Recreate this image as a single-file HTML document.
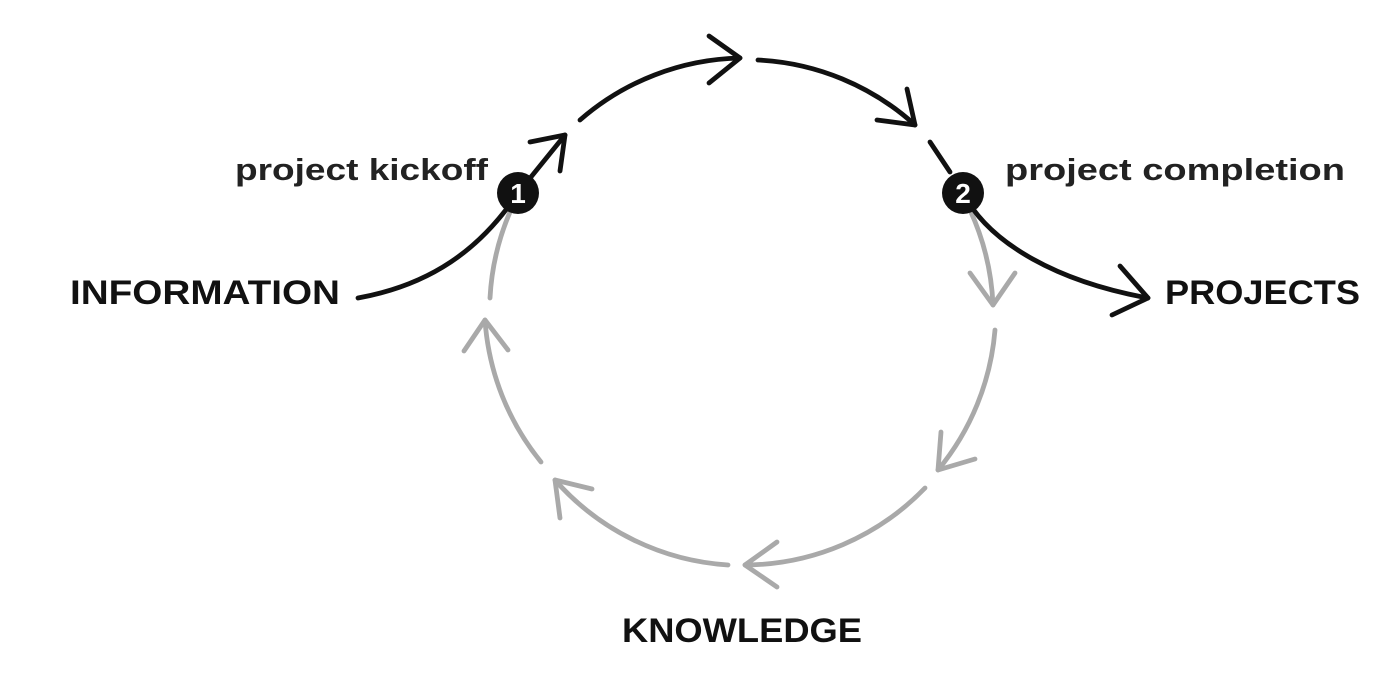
<!DOCTYPE html>
<html><head><meta charset="utf-8"><style>html,body{margin:0;padding:0;background:#fff;}svg{display:block}</style></head>
<body>
<svg width="1396" height="682" viewBox="0 0 1396 682" xmlns="http://www.w3.org/2000/svg">
<g fill="none" stroke-linecap="round" stroke-linejoin="round" stroke-width="4.8">
<g stroke="#a9a9a9">
<path d="M970,210 A252,252 0 0 1 993,305"/>
<path d="M970,273 L993,305 L1015,273"/>
<path d="M995,330 A252,252 0 0 1 938,470"/>
<path d="M941,432 L938,470 L975,459"/>
<path d="M925,488 A252,252 0 0 1 745,565"/>
<path d="M777,587 L745,565 L777,542"/>
<path d="M728,565 A252,252 0 0 1 555,480"/>
<path d="M592,489 L555,480 L560,518"/>
<path d="M541,462 A252,252 0 0 1 485,320"/>
<path d="M508,350 L485,320 L464,351"/>
<path d="M490,298 A252,252 0 0 1 510,212"/>
</g>
<g stroke="#111">
<path d="M358,298 C430,285 480,250 518,193 L565,135"/>
<path d="M560,171 L565,135 L530,142"/>
<path d="M580,120 A252,252 0 0 1 740,58"/>
<path d="M709,83 L740,58 L709,36"/>
<path d="M758,60 A252,252 0 0 1 915,125"/>
<path d="M877,120 L915,125 L907,89"/>
<path d="M930,142 L950,172"/>
<path d="M963,193 C990,245 1060,282 1148,298"/>
<path d="M1112,315 L1148,298 L1120,266"/>
</g>
</g>
<circle cx="518" cy="193" r="21" fill="#111"/>
<circle cx="963" cy="193" r="21" fill="#111"/>
<g font-family="Liberation Sans, sans-serif" font-weight="bold">
<text x="518" y="203" font-size="28" fill="#fff" text-anchor="middle">1</text>
<text x="963" y="203" font-size="28" fill="#fff" text-anchor="middle">2</text>
<text x="70" y="304" font-size="34" fill="#111" textLength="270" lengthAdjust="spacingAndGlyphs">INFORMATION</text>
<text x="1165" y="304" font-size="34" fill="#111" textLength="195" lengthAdjust="spacingAndGlyphs">PROJECTS</text>
<text x="622" y="642" font-size="34" fill="#111" textLength="240" lengthAdjust="spacingAndGlyphs">KNOWLEDGE</text>
<text x="235" y="180" font-size="31" fill="#222" textLength="253" lengthAdjust="spacingAndGlyphs">project kickoff</text>
<text x="1005" y="180" font-size="31" fill="#222" textLength="340" lengthAdjust="spacingAndGlyphs">project completion</text>
</g>
</svg>
</body></html>
